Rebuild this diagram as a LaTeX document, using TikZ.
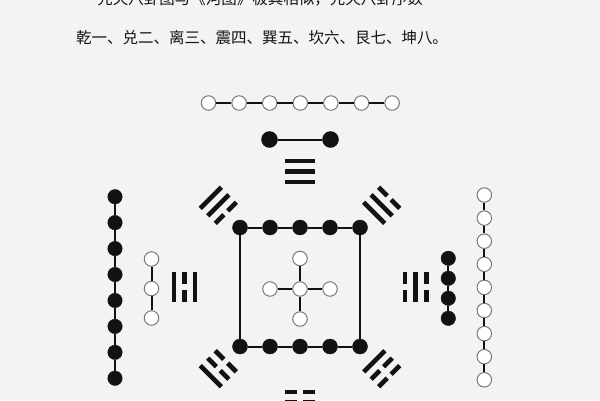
\documentclass[tikz,border=0pt]{standalone}
\usepackage{fontspec}
\newfontfamily\cjk{Noto Sans CJK SC}
\usetikzlibrary{calc}
\definecolor{papier}{RGB}{243,243,242}
\definecolor{tinte}{RGB}{18,18,18}
\definecolor{rand}{RGB}{120,120,120}

\begin{document}
\begin{tikzpicture}[x=1pt, y=-1pt,
    schwarz/.style={circle, fill=tinte, draw=tinte, minimum size=15pt, inner sep=0pt},
    weiss/.style={circle, fill=white, draw=rand, line width=1pt, minimum size=14.5pt, inner sep=0pt},
    kette/.style={line width=2pt, tinte},
    strich/.style={line width=4.6pt, tinte}]

    \fill[papier] (0,0) rectangle (600,400);
    \useasboundingbox (0,0) rectangle (600,400);

    \begin{scope}
        \clip (0,0) rectangle (600,400);
        \node[font=\cjk\fontsize{15.5}{15.5}\selectfont, tinte] (zeileA) at (260,-1.5) {先天八卦图与《河图》极其相似，先天八卦序数};
        \node[font=\cjk\fontsize{15.5}{15.5}\selectfont, tinte] (zeileB) at (262,38) {乾一、兑二、离三、震四、巽五、坎六、艮七、坤八。};

        % acht trigramme, innen -> aussen
        \foreach \winkel/\a/\b/\c in {0/1/1/1, 45/0/1/1, 90/1/0/1, 135/0/0/1, 180/0/0/0, 225/1/0/0, 270/0/1/0, 315/1/1/0} {
            \begin{scope}[shift={(300,287)}, rotate=\winkel]
                \foreach \k/\typ in {0/\a, 1/\b, 2/\c} {
                    \ifnum\typ=1
                        \draw[strich] (-15,{-105-10.6*\k}) -- (15,{-105-10.6*\k});
                    \else
                        \draw[strich] (-15,{-105-10.6*\k}) -- (-2.8,{-105-10.6*\k});
                        \draw[strich] (2.8,{-105-10.6*\k}) -- (15,{-105-10.6*\k});
                    \fi
                }
            \end{scope}
        }
    \end{scope}

    % oben: sieben weisse, zwei schwarze
    \foreach \i in {0,...,6}
        \node[weiss] (o\i) at ({208.5+30.6*\i},103) {};
    \foreach \i [count=\j from 0] in {1,...,6}
        \draw[kette] (o\j) -- (o\i);
    \node[schwarz, minimum size=16pt] (p0) at (269.5,139.5) {};
    \node[schwarz, minimum size=16pt] (p1) at (330.5,139.5) {};
    \draw[kette] (p0) -- (p1);

    % quadrat
    \foreach \i in {0,...,4} {
        \node[schwarz] (t\i) at ({240+30*\i},227.5) {};
        \node[schwarz] (b\i) at ({240+30*\i},346.5) {};
    }
    \foreach \i [count=\j from 0] in {1,...,4} {
        \draw[kette] (t\j) -- (t\i);
        \draw[kette] (b\j) -- (b\i);
    }
    \draw[kette] (t0) -- (b0);
    \draw[kette] (t4) -- (b4);

    % mitte
    \node[weiss] (m) at (300,289) {};
    \node[weiss] (mn) at (300,258.5) {};
    \node[weiss] (ms) at (300,319) {};
    \node[weiss] (mw) at (270,289) {};
    \node[weiss] (mo) at (330,289) {};
    \foreach \r in {mn,ms,mw,mo}
        \draw[kette] (m) -- (\r);

    % links
    \foreach \i in {0,...,7}
        \node[schwarz, minimum size=14.5pt] (l\i) at (115,{196.7+25.94*\i}) {};
    \foreach \i [count=\j from 0] in {1,...,7}
        \draw[kette] (l\j) -- (l\i);
    \foreach \i in {0,1,2}
        \node[weiss] (lw\i) at (151.5,{259+29.5*\i}) {};
    \draw[kette] (lw0) -- (lw1);
    \draw[kette] (lw1) -- (lw2);

    % rechts
    \foreach \i in {0,...,3}
        \node[schwarz, minimum size=14.5pt] (r\i) at (448.3,{258.3+20*\i}) {};
    \foreach \i [count=\j from 0] in {1,...,3}
        \draw[kette] (r\j) -- (r\i);
    \foreach \i in {0,...,8}
        \node[weiss] (rw\i) at (484.3,{195+23.1*\i}) {};
    \foreach \i [count=\j from 0] in {1,...,8}
        \draw[kette] (rw\j) -- (rw\i);

\end{tikzpicture}
\end{document}
